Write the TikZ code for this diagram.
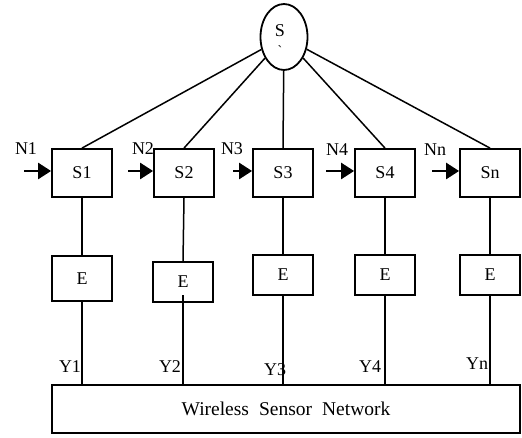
\documentclass[tikz,border=0pt]{standalone}
\usepackage{fontspec}
\setmainfont{Liberation Serif}
\usetikzlibrary{shapes.geometric,arrows.meta}
\begin{document}
\begin{tikzpicture}[x=1pt,y=-1pt,
  lbl/.style={inner sep=0pt,font=\fontsize{18}{20}\selectfont},
  sbox/.style={draw,line width=1.8pt,minimum width=60pt,minimum height=48pt,inner sep=0pt,font=\fontsize{18}{20}\selectfont},
  ebox/.style={draw,line width=1.8pt,minimum width=60pt,minimum height=40pt,inner sep=0pt,font=\fontsize{18}{20}\selectfont},
  conn/.style={line width=1.5pt},
  inarrow/.style={line width=2.5pt,-{Triangle[length=13pt,width=16pt]}}]
\useasboundingbox (0,0) rectangle (522,438);
% central node
\node[draw,ellipse,line width=1.8pt,minimum width=47pt,minimum height=66pt,inner sep=0pt] (S) at (284,37) {};
\node[lbl] (Stxt) at (280,31) {S};
\node[lbl,font=\fontsize{14}{14}\selectfont] (Smark) at (280,51) {\textasciigrave};
% S boxes
\node[sbox] (S1) at (82,173) {S1};
\node[sbox] (S2) at (184,173) {S2};
\node[sbox] (S3) at (283,173) {S3};
\node[sbox] (S4) at (385,173) {S4};
\node[sbox] (Sn) at (490,173) {Sn};
% E boxes
\node[ebox,minimum height=45pt] (E1) at (82,278.5) {E};
\node[ebox] (E2) at (183,282) {E};
\node[ebox] (E3) at (283,275) {E};
\node[ebox] (E4) at (385,275) {E};
\node[ebox] (En) at (490,275) {E};
% WSN
\node[draw,line width=1.8pt,minimum width=468pt,minimum height=48pt,inner sep=0pt,font=\fontsize{19.5}{22}\selectfont] (W) at (286,409) {Wireless\hspace{10pt}Sensor\hspace{10pt}Network};
% connectors from S
\foreach \n in {S1,S2,S3,S4,Sn}{\draw[conn] (S) -- (\n.north);}
% vertical lines
\foreach \n/\e in {S1/E1,S2/E2,S3/E3,S4/E4,Sn/En}{
  \draw[conn] (\n.south) -- (\e.north);
  \draw[conn] (\e.south) -- (\e.south |- W.north);
}
\draw[conn] (E2.south) -- ++(0,-8);
% input arrows
\coordinate (a1) at (24,171);
\coordinate (a2) at (128,171);
\coordinate (a3) at (233,171);
\coordinate (a4) at (326,171);
\coordinate (an) at (432,171);
\draw[inarrow] (a1) -- (S1.west |- a1);
\draw[inarrow] (a2) -- (S2.west |- a2);
\draw[inarrow] (a3) -- (S3.west |- a3);
\draw[inarrow] (a4) -- (S4.west |- a4);
\draw[inarrow] (an) -- (Sn.west |- an);
% N labels
\node[lbl] (N1) at (26,149) {N1};
\node[lbl] (N2) at (143,149) {N2};
\node[lbl] (N3) at (232,149) {N3};
\node[lbl] (N4) at (337,150) {N4};
\node[lbl] (Nn) at (435,150) {Nn};
% Y labels
\node[lbl] (Y1) at (70,367) {Y1};
\node[lbl] (Y2) at (170,367) {Y2};
\node[lbl] (Y3) at (275,370) {Y3};
\node[lbl] (Y4) at (370,367) {Y4};
\node[lbl] (Yn) at (477,364) {Yn};
\end{tikzpicture}
\end{document}
